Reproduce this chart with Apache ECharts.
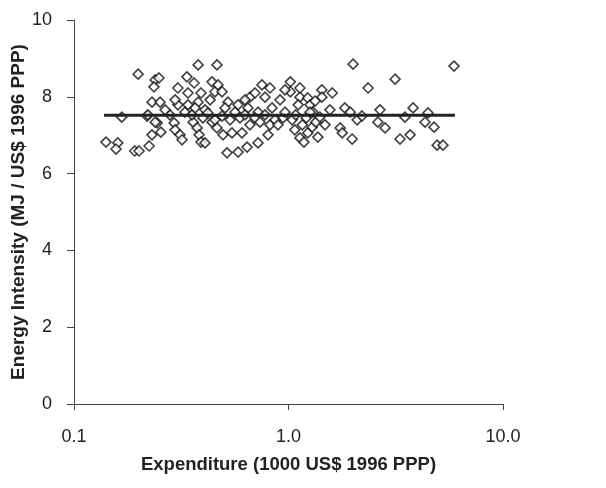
<!DOCTYPE html>
<html><head><meta charset="utf-8">
<script src="https://cdn.jsdelivr.net/npm/echarts@6/dist/echarts.min.js"></script>
<style>html,body{margin:0;padding:0;background:#fff}#c{width:606px;height:488px}</style>
</head><body><div id="c"></div>
<script>
// Scatter points: [expenditure (1000 US$ 1996 PPP), energy intensity (MJ / US$ 1996 PPP)]
const points = [
[0.141,6.82],[0.160,6.80],[0.157,6.64],[0.192,6.59],[0.201,6.59],[0.224,6.72],[0.231,7.01],[0.254,7.08],
[0.244,7.32],[0.167,7.47],[0.219,7.50],[0.293,7.32],[0.296,7.14],[0.312,7.01],[0.319,6.88],[0.359,7.34],
[0.375,7.19],[0.383,7.01],[0.391,6.82],[0.408,6.80],[0.440,7.34],[0.464,7.19],[0.495,7.01],[0.517,6.54],
[0.545,7.06],[0.582,6.56],[0.607,7.06],[0.641,6.69],[0.661,7.27],[0.721,6.80],[0.803,7.01],[0.820,7.27],
[0.943,7.45],[1.07,7.14],[1.13,6.93],[1.18,6.82],[1.23,7.06],[1.29,7.21],[1.37,6.95],[1.74,7.19],
[1.78,7.06],[1.98,6.90],[2.09,7.40],[2.61,7.34],[3.31,6.90],[3.69,7.01],[3.49,7.47],[4.33,7.34],
[4.77,7.21],[4.93,6.74],[5.25,6.74],
[0.199,8.59],[0.239,8.44],[0.236,8.26],[0.231,7.86],[0.221,7.53],[0.239,7.34],
[0.379,8.83],[0.464,8.83],[0.249,8.49],[0.336,8.52],[0.305,8.23],[0.363,8.36],[0.440,8.39],[0.340,8.10],
[0.391,8.10],[0.454,8.13],[0.305,7.79],[0.340,7.79],[0.379,7.86],[0.408,7.66],[0.252,7.86],
[0.469,8.31],[0.490,8.13],[0.522,7.86],[0.582,7.79],[0.661,7.99],[0.752,8.31],[0.820,8.23],[0.777,7.99],
[0.647,7.71],[0.721,7.60],[0.838,7.71],
[1.02,8.39],[1.02,8.13],[1.13,7.99],[1.23,7.97],[1.43,8.18],[1.60,8.10],[1.43,7.99],[1.11,7.79],
[1.26,7.79],[1.30,7.60],
[2.00,8.85],[2.35,8.23],[3.14,8.46],[1.83,7.71],[5.91,8.80],[3.81,7.71],[4.47,7.58],
[0.329,7.60],[0.355,7.53],[0.399,7.45],[0.421,7.58],[0.454,7.40],[0.490,7.50],[0.534,7.40],[0.563,7.60],
[0.594,7.45],[0.627,7.53],[0.698,7.45],[0.736,7.34],[0.777,7.53],[0.865,7.40],[0.893,7.27],[0.963,7.60],
[1.04,7.40],[1.08,7.53],[1.16,7.27],[1.21,7.45],[1.26,7.60],[1.34,7.34],[1.40,7.47],[1.48,7.27],
[1.56,7.66],[0.280,7.53],[0.266,7.66],[0.296,7.92],[0.367,7.71],[0.431,7.92],[0.506,7.71],[0.627,7.92],
[0.698,8.10],[0.913,7.92],[0.963,8.18],[1.13,8.23],[1.33,7.89],[1.94,7.60],[2.20,7.50],[2.67,7.66],
[2.82,7.19]
];
// Mean line endpoints
const meanLine = [[0.138,7.52],[5.97,7.52]];
const xTickLabels = {"0.1":"0.1","1":"1.0","10":"10.0"};
const xTitle = "Expenditure (1000 US$ 1996 PPP)";
const yTitle = "Energy Intensity (MJ / US$ 1996 PPP)";

const chart = echarts.init(document.getElementById('c'), null, {renderer:'canvas'});
const txt = '#222';
const ff = 'Liberation Sans, Arial, sans-serif';
chart.setOption({
  animation:false,
  backgroundColor:'#fff',
  grid:{left:74,right:103,top:20,bottom:84,containLabel:false,outerBoundsMode:'none'},
  xAxis:{
    type:'log', logBase:10, min:0.1, max:10,
    name:xTitle, nameLocation:'middle', nameGap:51, nameMoveOverlap:false,
    nameTextStyle:{fontFamily:ff,fontWeight:'bold',fontSize:18.5,color:txt},
    axisLine:{lineStyle:{color:'#444',width:1}},
    axisTick:{show:true,length:6,lineStyle:{color:'#444'}},
    axisLabel:{margin:24,fontFamily:ff,fontSize:18,color:txt,
      formatter:v=>{const k=String(+v.toPrecision(3));return xTickLabels[k]!==undefined?xTickLabels[k]:'';}},
    splitLine:{show:false}, minorTick:{show:false}
  },
  yAxis:{
    type:'value', min:0, max:10, interval:2,
    name:yTitle, nameLocation:'middle', nameGap:46, nameRotate:90, nameMoveOverlap:false,
    nameTextStyle:{fontFamily:ff,fontWeight:'bold',fontSize:19,color:txt},
    axisLine:{show:true,lineStyle:{color:'#444',width:1}},
    axisTick:{show:true,length:7,lineStyle:{color:'#444'}},
    axisLabel:{margin:22,fontFamily:ff,fontSize:18,color:txt},
    splitLine:{show:false}
  },
  series:[
    {type:'scatter',data:points,symbol:'diamond',symbolSize:10,
     itemStyle:{color:'#fff',borderColor:'#111',borderWidth:1.6}},
    {type:'line',data:meanLine,symbol:'none',z:5,
     lineStyle:{color:'#222',width:3}}
  ]
});
</script></body></html>
